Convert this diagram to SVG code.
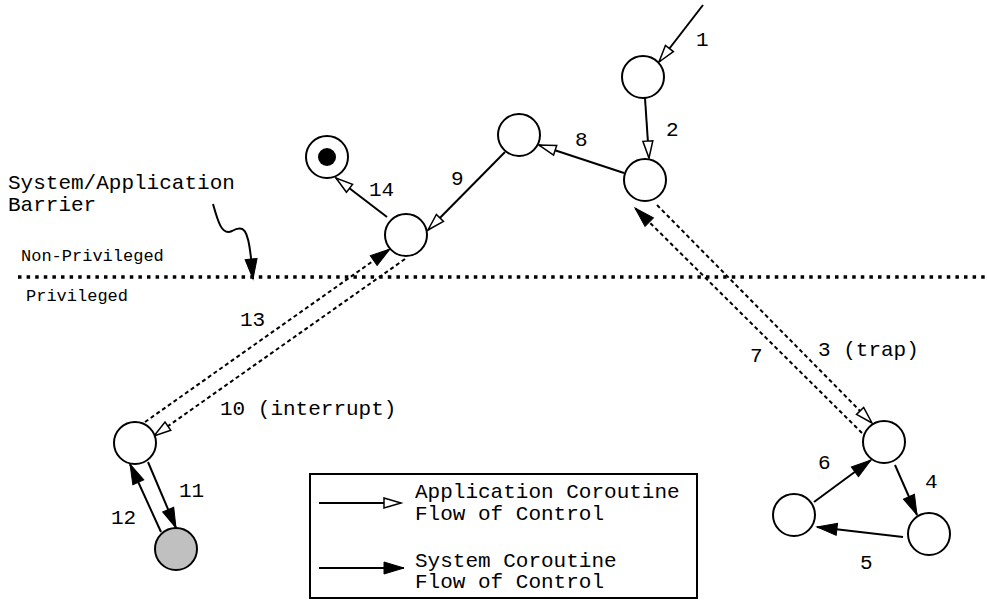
<svg xmlns="http://www.w3.org/2000/svg" width="987" height="600" viewBox="0 0 987 600">
  <style>
    text { font-family: "Liberation Mono", "Courier New", monospace; fill: #000; }
    .lbl { font-size: 21px; }
    .small { font-size: 17px; }
    .node { fill: #fff; stroke: #000; stroke-width: 2; }
    .edge { fill: none; stroke: #000; stroke-width: 2; }
    .dash { stroke-dasharray: 4 3; }
    .app { marker-end: url(#openArrow); }
    .sys { marker-end: url(#solidArrow); }
  </style>
  <defs>
    <marker id="openArrow" markerUnits="userSpaceOnUse" markerWidth="20" markerHeight="14" refX="17" refY="5" orient="auto" overflow="visible">
      <path d="M0,0 L17,5 L0,10 Z" fill="#fff" stroke="#000" stroke-width="1.5" stroke-dasharray="none"/>
    </marker>
    <marker id="solidArrow" markerUnits="userSpaceOnUse" markerWidth="22" markerHeight="14" refX="20" refY="6" orient="auto" overflow="visible">
      <path d="M0,0 L20,6 L0,12 Z" fill="#000" stroke="#000" stroke-width="1" stroke-dasharray="none"/>
    </marker>
  </defs>

  <!-- privilege barrier -->
  <g id="barrier">
    <line x1="18" y1="277" x2="987" y2="277" stroke="#000" stroke-width="3.5" stroke-dasharray="3.5 5.1"/>
    <text class="lbl" x="8" y="189">System/Application</text>
    <text class="lbl" x="8" y="211">Barrier</text>
    <text class="small" x="21" y="261">Non-Privileged</text>
    <text class="small" x="26" y="301">Privileged</text>
    <path class="edge sys" d="M213,204 C218,222 222,236 232,231 C244,224 248,230 251,258 L253,279"/>
  </g>

  <!-- connectors -->
  <g id="connectors">
    <path class="edge app" d="M703,5 L659,62"/>
    <path class="edge app" d="M645,98 L649,158"/>
    <path class="edge app" d="M624,173 L539,145"/>
    <path class="edge app" d="M505,152 L428,230"/>
    <path class="edge app" d="M387,217 L336,178"/>
    <path class="edge dash app" d="M405,259 L154,436"/>
    <path class="edge dash sys" d="M145,422 L390,249"/>
    <path class="edge dash app" d="M657,205 L872,423"/>
    <path class="edge dash sys" d="M862,433 L635,208"/>
    <path class="edge sys" d="M895,465 L917,515"/>
    <path class="edge sys" d="M903,537 L817,527"/>
    <path class="edge sys" d="M814,502 L871,460"/>
    <path class="edge sys" d="M148,462 L176,528"/>
    <path class="edge sys" d="M161,532 L130,464"/>

    <text class="lbl" x="696" y="46">1</text>
    <text class="lbl" x="666" y="136">2</text>
    <text class="lbl" x="575" y="146">8</text>
    <text class="lbl" x="451" y="185">9</text>
    <text class="lbl" x="369" y="196">14</text>
    <text class="lbl" x="240" y="326">13</text>
    <text class="lbl" x="220" y="415">10 (interrupt)</text>
    <text class="lbl" x="179" y="497">11</text>
    <text class="lbl" x="111" y="524">12</text>
    <text class="lbl" x="750" y="362">7</text>
    <text class="lbl" x="818" y="356">3 (trap)</text>
    <text class="lbl" x="818" y="469">6</text>
    <text class="lbl" x="925" y="488">4</text>
    <text class="lbl" x="860" y="569">5</text>
  </g>

  <!-- coroutine states -->
  <g id="n-entry"><circle class="node" cx="643" cy="77" r="21"/></g>
  <g id="n-app"><circle class="node" cx="645" cy="180" r="21"/></g>
  <g id="n-app2"><circle class="node" cx="519" cy="135" r="21"/></g>
  <g id="n-final"><circle class="node" cx="327" cy="157" r="21"/><circle cx="327" cy="157" r="9" fill="#000"/></g>
  <g id="n-app3"><circle class="node" cx="406" cy="235" r="21"/></g>
  <g id="n-intr"><circle class="node" cx="135" cy="443" r="21"/></g>
  <g id="n-handler"><circle class="node" cx="176" cy="549" r="21" style="fill:#c0c0c0"/></g>
  <g id="n-trap"><circle class="node" cx="884" cy="442" r="21"/></g>
  <g id="n-sys1"><circle class="node" cx="929" cy="534" r="21"/></g>
  <g id="n-sys2"><circle class="node" cx="794" cy="515" r="21"/></g>

  <!-- legend -->
  <g id="legend">
    <rect x="310" y="474" width="387" height="124" fill="#fff" stroke="#000" stroke-width="2"/>
    <path class="edge app" d="M319,503 L401,503"/>
    <path class="edge sys" d="M319,568 L404,568"/>
    <text class="lbl" x="415" y="498">Application Coroutine</text>
    <text class="lbl" x="415" y="520">Flow of Control</text>
    <text class="lbl" x="415" y="567">System Coroutine</text>
    <text class="lbl" x="415" y="588">Flow of Control</text>
  </g>
</svg>
